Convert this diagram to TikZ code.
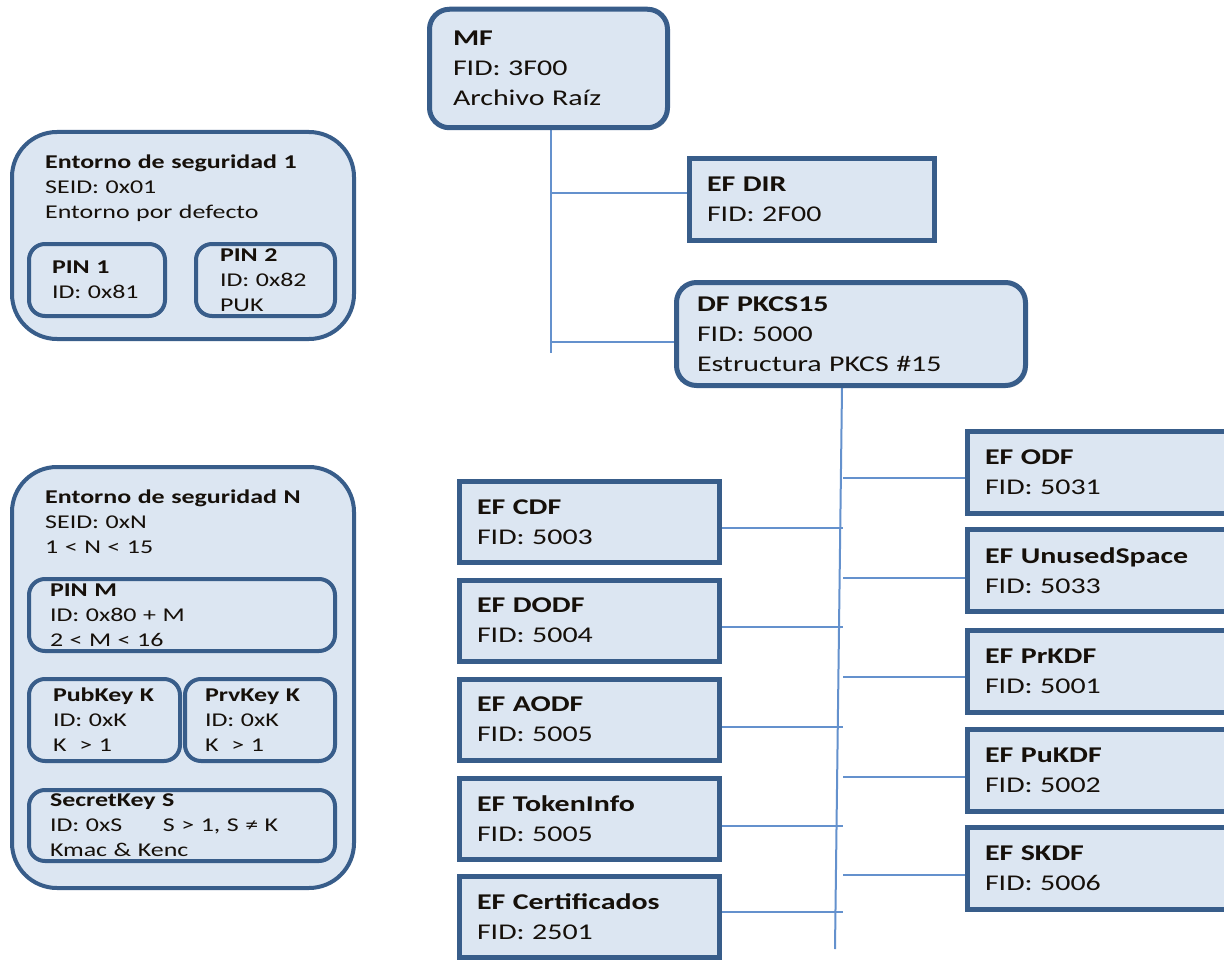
\documentclass[tikz,border=0pt]{standalone}
\usepackage{fontspec}
\setmainfont{Carlito}[FakeStretch=1.33]
\usetikzlibrary{shadows,backgrounds}

\definecolor{boxfill}{RGB}{220,230,242}
\definecolor{boxline}{RGB}{56,93,138}
\definecolor{wirecol}{RGB}{100,145,205}
\definecolor{ink}{RGB}{22,16,10}

\newcommand\filetxt{\fontsize{22.5pt}{30pt}\selectfont}
\newcommand\envtxt{\fontsize{19.5pt}{25pt}\selectfont}

\tikzset{
  filebox/.style={draw=boxline, fill=boxfill, line width=5pt, inner sep=0pt,
    align=left, text=ink, font=\filetxt},
  roundfile/.style={filebox, rounded corners=20pt,
    drop shadow={shadow xshift=2pt, shadow yshift=-2pt, opacity=0.3}},
  leftfile/.style={filebox, minimum width=260pt, minimum height=81pt, text width=225pt},
  rightfile/.style={filebox, minimum width=272.5pt, minimum height=82pt, text width=237.5pt},
  envbox/.style={draw=boxline, fill=boxfill, line width=4pt, rounded corners=45pt,
    minimum width=342pt, inner sep=0pt},
  keybox/.style={draw=boxline, fill=boxfill, line width=4pt, rounded corners=16pt,
    inner sep=0pt, align=left, text=ink, font=\envtxt},
  envhead/.style={inner sep=0pt, align=left, text=ink, font=\envtxt,
    anchor=north west, text width=300pt},
  wire/.style={draw=wirecol, line width=2pt},
}

\begin{document}
\begin{tikzpicture}[x=1pt, y=-1pt]
\useasboundingbox (0,0) rectangle (1224,963);
\clip (0,0) rectangle (1224,963);

% ---------- file system tree ----------
\node[roundfile, minimum width=238pt, minimum height=118.5pt, text width=191pt]
  (mf) at (548.5,68.5) {\textbf{MF}\\FID: 3F00\\Archivo Raíz};
\node[filebox, minimum width=245pt, minimum height=82pt, text width=210pt]
  (efdir) at (812,199.5) {\textbf{EF DIR}\\FID: 2F00};
\node[roundfile, minimum width=349pt, minimum height=103pt, text width=308pt]
  (df) at (851,334) {\textbf{DF PKCS15}\\FID: 5000\\Estructura PKCS \#15};

\node[leftfile] (cdf)   at (589.5,522)   {\textbf{EF CDF}\\FID: 5003};
\node[leftfile] (dodf)  at (589.5,620.5) {\textbf{EF DODF}\\FID: 5004};
\node[leftfile] (aodf)  at (589.5,719.5) {\textbf{EF AODF}\\FID: 5005};
\node[leftfile] (token) at (589.5,819)   {\textbf{EF TokenInfo}\\FID: 5005};
\node[leftfile] (cert)  at (589.5,917)   {\textbf{EF Certificados}\\FID: 2501};

\node[rightfile] (odf)    at (1103.75,472.5) {\textbf{EF ODF}\\FID: 5031};
\node[rightfile] (unused) at (1103.75,570.5) {\textbf{EF UnusedSpace}\\FID: 5033};
\node[rightfile] (prkdf)  at (1103.75,671)   {\textbf{EF PrKDF}\\FID: 5001};
\node[rightfile] (pukdf)  at (1103.75,770)   {\textbf{EF PuKDF}\\FID: 5002};
\node[rightfile] (skdf)   at (1103.75,868.5) {\textbf{EF SKDF}\\FID: 5006};

% ---------- security environments ----------
\node[envbox, minimum height=207pt] (se1) at (183,235.5) {};
\node[envhead] (se1head) at ([shift={(35,24.3)}]se1.north west)
  {\textbf{Entorno de seguridad 1}\\SEID: 0x01\\Entorno por defecto};
\node[keybox, minimum width=136pt, minimum height=72pt, text width=90pt]
  (pin1) at (97,280) {\textbf{PIN~1}\\ID:~0x81};
\node[keybox, minimum width=139pt, minimum height=72pt, text width=91pt]
  (pin2) at (265.5,280) {\textbf{PIN~2}\\ID:~0x82\\PUK};

\node[envbox, minimum height=421pt] (sen) at (183,677.5) {};
\node[envhead] (senhead) at ([shift={(35,24.3)}]sen.north west)
  {\textbf{Entorno de seguridad N}\\SEID: 0xN\\1 < N < 15};
\node[keybox, minimum width=306pt, minimum height=72pt, text width=264pt]
  (pinm) at (182,615) {\textbf{PIN M}\\ID: 0x80 + M\\2 < M < 16};
\node[keybox, minimum width=151pt, minimum height=82pt, text width=103pt]
  (pubk) at (104.5,720) {\textbf{PubKey~K}\\ID:~0xK\\K~~>~1};
\node[keybox, minimum width=150pt, minimum height=82pt, text width=110pt]
  (prvk) at (260,720) {\textbf{PrvKey~K}\\ID:~0xK\\K~~>~1};
\node[keybox, minimum width=306pt, minimum height=71pt, text width=264pt]
  (seck) at (182,825.5)
  {\textbf{SecretKey S}\\\makebox[113pt][l]{ID: 0xS}S > 1, S ≠ K\\Kmac \& Kenc};

% ---------- connectors ----------
\begin{scope}[on background layer]
  \fill[white] (0,0) rectangle (1224,963);
  \coordinate (mfend) at (551,353);
  \coordinate (dfend) at (835,949);
  \coordinate (bx) at (843,0);
  \draw[wire] ([xshift=2.5pt]mf.south) -- (mfend);
  \draw[wire] ([yshift=6.5pt]efdir.west) -- ([yshift=6.5pt]efdir.west -| mfend);
  \draw[wire] ([yshift=-8pt]df.west) -- ([yshift=-8pt]df.west -| mfend);
  \draw[wire] ([xshift=-9pt]df.south) -- (dfend);
  \draw[wire] ([yshift=-6pt]cdf.east)   -- ([yshift=-6pt]cdf.east -| bx);
  \draw[wire] ([yshift=-6.5pt]dodf.east) -- ([yshift=-6.5pt]dodf.east -| bx);
  \draw[wire] ([yshift=-7.5pt]aodf.east) -- ([yshift=-7.5pt]aodf.east -| bx);
  \draw[wire] ([yshift=-7pt]token.east) -- ([yshift=-7pt]token.east -| bx);
  \draw[wire] ([yshift=5pt]cert.east)   -- ([yshift=5pt]cert.east -| bx);
  \draw[wire] ([yshift=-5.5pt]odf.west)   -- ([yshift=-5.5pt]odf.west -| bx);
  \draw[wire] ([yshift=-7.5pt]unused.west) -- ([yshift=-7.5pt]unused.west -| bx);
  \draw[wire] ([yshift=-6pt]prkdf.west)  -- ([yshift=-6pt]prkdf.west -| bx);
  \draw[wire] ([yshift=-7pt]pukdf.west)  -- ([yshift=-7pt]pukdf.west -| bx);
  \draw[wire] ([yshift=-6.5pt]skdf.west) -- ([yshift=-6.5pt]skdf.west -| bx);
\end{scope}
\end{tikzpicture}
\end{document}
